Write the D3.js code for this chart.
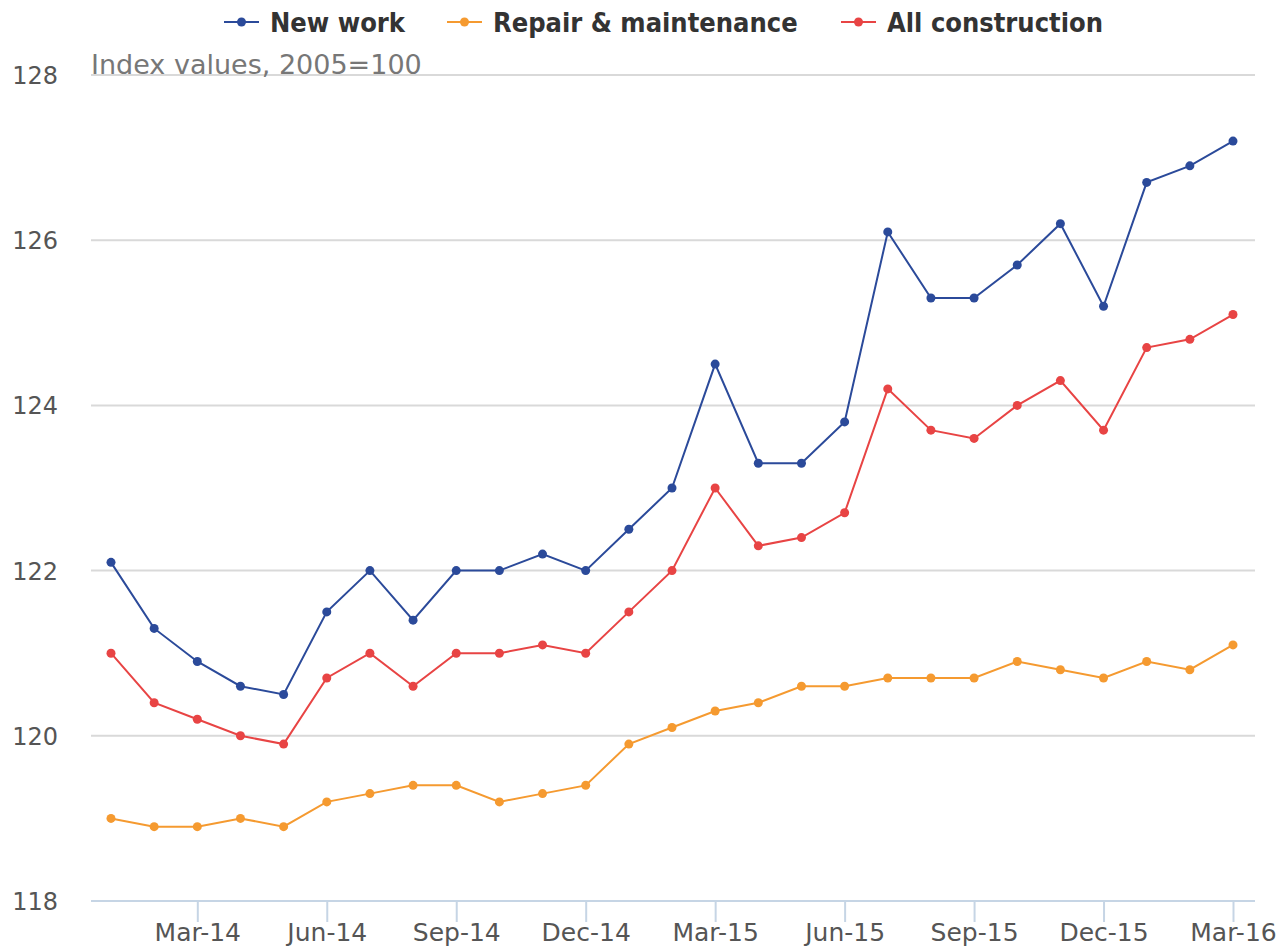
<!DOCTYPE html>
<html>
<head>
<meta charset="utf-8">
<script src="https://cdn.jsdelivr.net/npm/d3@7"></script>
<style>
  body { margin: 0; background: #fff; }
  svg { font-family: "DejaVu Sans", sans-serif; }
</style>
</head>
<body>
<script>
var months = ["Jan-14","Feb-14","Mar-14","Apr-14","May-14","Jun-14","Jul-14","Aug-14","Sep-14","Oct-14","Nov-14","Dec-14",
              "Jan-15","Feb-15","Mar-15","Apr-15","May-15","Jun-15","Jul-15","Aug-15","Sep-15","Oct-15","Nov-15","Dec-15",
              "Jan-16","Feb-16","Mar-16"];
var newWork = [122.1,121.3,120.9,120.6,120.5,121.5,122.0,121.4,122.0,122.0,122.2,122.0,
               122.5,123.0,124.5,123.3,123.3,123.8,126.1,125.3,125.3,125.7,126.2,125.2,
               126.7,126.9,127.2];
var repair = [119.0,118.9,118.9,119.0,118.9,119.2,119.3,119.4,119.4,119.2,119.3,119.4,
              119.9,120.1,120.3,120.4,120.6,120.6,120.7,120.7,120.7,120.9,120.8,120.7,
              120.9,120.8,121.1];
var allCon = [121.0,120.4,120.2,120.0,119.9,120.7,121.0,120.6,121.0,121.0,121.1,121.0,
              121.5,122.0,123.0,122.3,122.4,122.7,124.2,123.7,123.6,124.0,124.3,123.7,
              124.7,124.8,125.1];
var xTicks = ["Mar-14","Jun-14","Sep-14","Dec-14","Mar-15","Jun-15","Sep-15","Dec-15","Mar-16"];
var yTicks = [118, 120, 122, 124, 126, 128];
var seriesNames = ["New work", "Repair & maintenance", "All construction"];
var seriesColors = ["#2b4a9a", "#f59a30", "#e84444"];

var w = 1288, h = 947;
var pLeft = 91, pRight = 1255, pTop = 75, pBottom = 901;

var svg = d3.select("body").append("svg")
            .attr("width", w)
            .attr("height", h);

var x = d3.scalePoint().domain(months).range([111, 1233]);
var y = d3.scaleLinear().domain([118, 128]).range([pBottom, pTop]);

// gridlines
svg.append("g").selectAll("line")
   .data(yTicks.slice(1))
   .enter().append("line")
   .attr("x1", pLeft).attr("x2", pRight)
   .attr("y1", function(d) { return y(d); })
   .attr("y2", function(d) { return y(d); })
   .attr("stroke", "#d9d9d9")
   .attr("stroke-width", 2);

// y labels
svg.append("g").selectAll("text")
   .data(yTicks)
   .enter().append("text")
   .attr("x", 58)
   .attr("y", function(d) { return y(d) + 9; })
   .attr("text-anchor", "end")
   .attr("fill", "#555")
   .style("font-size", "24px")
   .text(function(d) { return d; });

svg.append("text")
   .attr("x", pLeft)
   .attr("y", 74)
   .attr("fill", "#777")
   .style("font-size", "27px")
   .text("Index values, 2005=100");

// x axis
var xAxis = d3.axisBottom(x).tickValues(xTicks).tickSize(21).tickPadding(1);
var gx = svg.append("g")
            .attr("transform", "translate(0," + pBottom + ")")
            .call(xAxis);
gx.select(".domain").remove();
gx.selectAll(".tick line").attr("stroke", "#c6d5e5").attr("stroke-width", 2);
gx.selectAll(".tick text")
  .attr("fill", "#555")
  .style("font-size", "25px")
  .style("font-family", "DejaVu Sans, sans-serif");
svg.append("line")
   .attr("x1", pLeft).attr("x2", pRight)
   .attr("y1", pBottom).attr("y2", pBottom)
   .attr("stroke", "#c6d5e5")
   .attr("stroke-width", 2);

// series
var allSeries = [newWork, repair, allCon];
var line = d3.line()
             .x(function(d, i) { return x(months[i]); })
             .y(function(d) { return y(d); });

// orange first, then red, then blue on top
[1, 2, 0].forEach(function(k) {
  var g = svg.append("g");
  g.append("path")
   .attr("d", line(allSeries[k]))
   .attr("fill", "none")
   .attr("stroke", seriesColors[k])
   .attr("stroke-width", 2);
  g.selectAll("circle")
   .data(allSeries[k])
   .enter().append("circle")
   .attr("cx", function(d, i) { return x(months[i]); })
   .attr("cy", function(d) { return y(d); })
   .attr("r", 4.5)
   .attr("fill", seriesColors[k]);
});

// legend
var legendX = [224, 447, 841];
var legend = svg.selectAll(".legend")
                .data(seriesNames)
                .enter().append("g")
                .attr("class", "legend")
                .attr("transform", function(d, i) { return "translate(" + legendX[i] + ",22)"; });
legend.append("line")
      .attr("x1", 0).attr("x2", 35)
      .attr("stroke", function(d, i) { return seriesColors[i]; })
      .attr("stroke-width", 2);
legend.append("circle")
      .attr("cx", 17.5)
      .attr("r", 4.5)
      .attr("fill", function(d, i) { return seriesColors[i]; });
legend.append("text")
      .attr("x", 46)
      .attr("y", 10)
      .attr("fill", "#333")
      .style("font-family", "'DejaVu Sans Condensed', 'DejaVu Sans', sans-serif")
      .style("font-weight", "bold")
      .style("font-size", "27px")
      .text(function(d) { return d; });
</script>
</body>
</html>
